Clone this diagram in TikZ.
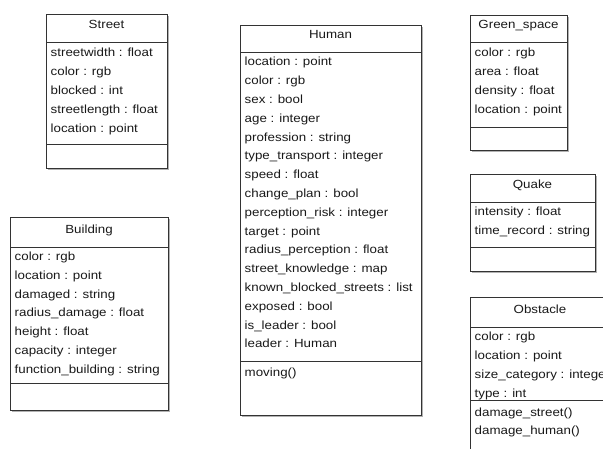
\documentclass[tikz,border=0pt]{standalone}
\usepackage{fontspec}
\setmainfont{Liberation Sans}[FakeStretch=1.13]
\begin{document}
\begin{tikzpicture}[x=1pt,y=-1pt,
  box/.style={draw=black!80, fill=white, line width=0.9pt, anchor=north west, inner sep=0pt, outer sep=0pt},
  sep/.style={draw=black!80, line width=0.9pt},
  shadow/.style={fill=black!30},
  attr/.style={anchor=base west, inner sep=0pt, font=\fontsize{11.8}{13}\selectfont, text=black!90},
  title/.style={anchor=base, inner sep=0pt, font=\fontsize{11.8}{13}\selectfont, text=black!90}]
\clip (0,0) rectangle (603,449);
\fill[white] (0,0) rectangle (603,449);
% helper: class box
\newcommand\umlbox[5]{% name, x1, y1, x2, y2
  \fill[shadow] (#2+1.8,#3+1.8) rectangle (#4+1.8,#5+1.8);
  \node[box, minimum width=#4-#2, minimum height=#5-#3] (#1) at (#2,#3) {};}
\newcommand\umlrows[5]{% prefix, x, first baseline, step, list
  \foreach \t [count=\i] in {#5} {\node[attr] (#1-\i) at (#2,#3+#4*\i-#4) {\t};}}
% ---------- Street
\umlbox{street}{46}{14}{167}{168}
\node[title] (street-t) at (106.5,29) {Street};
\draw[sep] (46,42) -- (167,42);
\umlrows{streeta}{50.5}{57}{18.8}{streetwidth : float, color : rgb, blocked : int, streetlength : float, location : point}
\draw[sep] (46,144) -- (167,144);
% ---------- Building
\umlbox{building}{10}{217}{168}{410}
\node[title] (building-t) at (89,234) {Building};
\draw[sep] (10,247) -- (168,247);
\umlrows{buildinga}{14.5}{260.5}{18.8}{color : rgb, location : point, damaged : string, radius\_damage : float, height : float, capacity : integer, function\_building : string}
\draw[sep] (10,383) -- (168,383);
% ---------- Human
\umlbox{human}{240}{25}{421}{415}
\node[title] (human-t) at (330.5,39) {Human};
\draw[sep] (240,52) -- (421,52);
\umlrows{humana}{244.5}{66}{18.8}{location : point, color : rgb, sex : bool, age : integer, profession : string, type\_transport : integer, speed : float, change\_plan : bool, perception\_risk : integer, target : point, radius\_perception : float, street\_knowledge : map, known\_blocked\_streets : list, exposed : bool, is\_leader : bool, leader : Human}
\draw[sep] (240,361) -- (421,361);
\umlrows{humanm}{244.5}{376.5}{18.8}{moving()}
% ---------- Green_space
\umlbox{green}{470}{15}{567}{150}
\node[title] (green-t) at (518.5,29) {Green\_space};
\draw[sep] (470,42) -- (567,42);
\umlrows{greena}{474.5}{57}{18.8}{color : rgb, area : float, density : float, location : point}
\draw[sep] (470,127) -- (567,127);
% ---------- Quake
\umlbox{quake}{470}{174}{595}{271}
\node[title] (quake-t) at (532.5,189) {Quake};
\draw[sep] (470,202) -- (595,202);
\umlrows{quakea}{474.5}{216}{18.8}{intensity : float, time\_record : string}
\draw[sep] (470,247) -- (595,247);
% ---------- Obstacle
\umlbox{obstacle}{470}{297}{640}{480}
\node[title] (obstacle-t) at (540,314) {Obstacle};
\draw[sep] (470,327) -- (640,327);
\umlrows{obstaclea}{474.5}{341}{18.8}{color : rgb, location : point, size\_category : integer, type : int}
\draw[sep] (470,400) -- (640,400);
\umlrows{obstaclem}{474.5}{416}{18.8}{damage\_street(), damage\_human()}
\end{tikzpicture}
\end{document}
